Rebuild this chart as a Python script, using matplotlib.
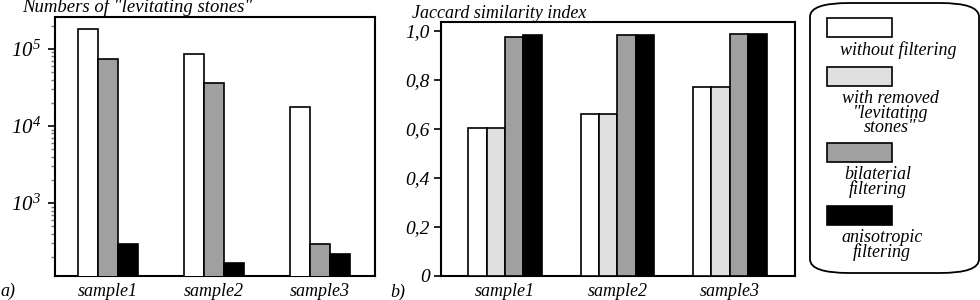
import matplotlib
matplotlib.use("Agg")
import matplotlib.pyplot as plt
import numpy as np
from matplotlib.patches import FancyBboxPatch, Rectangle
from matplotlib.ticker import FixedLocator, FixedFormatter, LogLocator, NullFormatter

plt.rcParams['font.family'] = ['Liberation Serif', 'DejaVu Serif']
plt.rcParams['font.style'] = 'italic'
plt.rcParams['mathtext.fontset'] = 'custom'
plt.rcParams['mathtext.it'] = 'Liberation Serif:italic'
plt.rcParams['mathtext.rm'] = 'Liberation Serif:italic'

samples = ["sample1", "sample2", "sample3"]
series = ["without filtering", "with removed\n\"levitating\nstones\"",
          "bilaterial\nfiltering", "anisotropic\nfiltering"]
colors = ["#ffffff", "#e0e0e0", "#a0a0a0", "#000000"]

# panel a: numbers of levitating stones (no 'removed' series)
stones_without = [180000, 86000, 17700]
stones_bilateral = [73000, 36000, 290]
stones_aniso = [294, 165, 220]

# panel b: Jaccard similarity index
jac_without = [0.605, 0.66, 0.77]
jac_removed = [0.605, 0.66, 0.772]
jac_bilateral = [0.977, 0.983, 0.987]
jac_aniso = [0.984, 0.985, 0.987]

fig = plt.figure(figsize=(9.8, 3.0), dpi=100)
FS = 13

# ---- panel a
axa = fig.add_axes([55/980, 1-276/300, 320/980, 259/300])
x = np.arange(len(samples))
wa = 0.189
for i, (vals, c) in enumerate(zip([stones_without, stones_bilateral, stones_aniso],
                                  [colors[0], colors[2], colors[3]])):
    axa.bar(x + (i-1)*wa, vals, wa, color=c, edgecolor='black', linewidth=1.2, zorder=3)
axa.set_yscale('log')
axa.set_ylim(113, 2.6e5)
axa.set_xlim(-0.5, 2.52)
axa.yaxis.set_major_locator(FixedLocator([1e3, 1e4, 1e5]))
axa.yaxis.set_major_formatter(FixedFormatter([r'$10^{3}$', r'$10^{4}$', r'$10^{5}$']))
axa.yaxis.set_minor_locator(LogLocator(base=10, subs=np.arange(2, 10)))
axa.yaxis.set_minor_formatter(NullFormatter())
axa.tick_params(axis='y', which='major', length=5, width=1.2, labelsize=FS+2, pad=5)
axa.tick_params(axis='y', which='minor', length=3, width=1.0, color='#777777')
axa.set_xticks(x)
axa.set_xticklabels(samples)
axa.tick_params(axis='x', length=0, labelsize=FS, pad=5)
for s in axa.spines.values():
    s.set_linewidth(1.5)

# ---- panel b
axb = fig.add_axes([441/980, 1-276/300, 354/980, 254/300])
wb = 0.164
for i, (vals, c) in enumerate(zip([jac_without, jac_removed, jac_bilateral, jac_aniso], colors)):
    axb.bar(x + (i-1.5)*wb, vals, wb, color=c, edgecolor='black', linewidth=1.2, zorder=3)
axb.set_ylim(0, 1.037)
axb.set_xlim(-0.57, 2.58)
yt = [0, 0.2, 0.4, 0.6, 0.8, 1.0]
axb.set_yticks(yt)
axb.set_yticklabels(["0", "0,2", "0,4", "0,6", "0,8", "1,0"])
axb.tick_params(axis='y', length=5, width=1.2, labelsize=FS+1, pad=3)
axb.set_xticks(x)
axb.set_xticklabels(samples)
axb.tick_params(axis='x', length=0, labelsize=FS, pad=5)
for s in axb.spines.values():
    s.set_linewidth(1.5)

# ---- titles and panel letters
fig.text(22/980, 1-7/300, 'Numbers of "levitating stones"', fontsize=FS+0.5, va='center', ha='left')
fig.text(412/980, 1-13/300, 'Jaccard similarity index', fontsize=FS, va='center', ha='left')
fig.text(0/980, 1-291/300, 'a)', fontsize=FS, va='center', ha='left')
fig.text(390/980, 1-292/300, 'b)', fontsize=FS, va='center', ha='left')

# ---- legend (manual, text below swatches)
box = FancyBboxPatch((810/980, 1-273/300), 169/980, 270/300,
                     boxstyle="round,pad=0,rounding_size=0.04",
                     transform=fig.transFigure, facecolor='white',
                     edgecolor='black', linewidth=1.3, mutation_aspect=980/300*0.35)
fig.patches.append(box)
sw_top = [18, 67, 143, 206]
txt_y = [50, 113, 182, 245]
txt_x = [898, 890, 878, 882]
for c, top, lab, yy, tx in zip(colors, sw_top, series, txt_y, txt_x):
    r = Rectangle((827/980, 1-(top+19)/300), 65/980, 19/300, transform=fig.transFigure,
                  facecolor=c, edgecolor='black', linewidth=1.2)
    fig.patches.append(r)
    fig.text(tx/980, 1-yy/300, lab, fontsize=FS, ha='center', va='center',
             multialignment='center', linespacing=0.8)

fig.savefig("out.png", dpi=100)
